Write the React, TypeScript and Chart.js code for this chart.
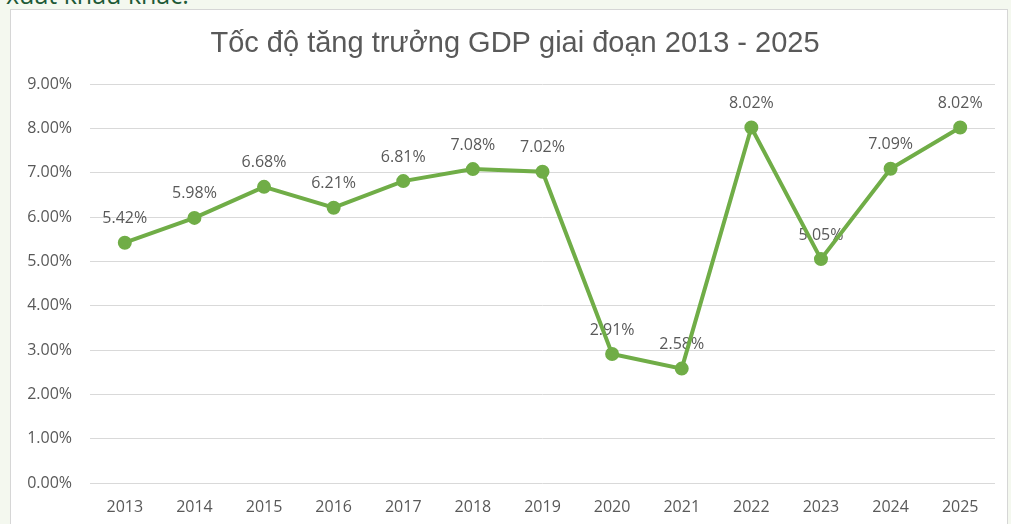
import React, { useEffect, useRef } from "react";
import { Chart, registerables } from "chart.js";

Chart.register(...registerables);

const categories = ["2013", "2014", "2015", "2016", "2017", "2018", "2019", "2020", "2021", "2022", "2023", "2024", "2025"];
const gdpGrowth = [5.42, 5.98, 6.68, 6.21, 6.81, 7.08, 7.02, 2.91, 2.58, 8.02, 5.05, 7.09, 8.02];
const titleText = "Tốc độ tăng trưởng GDP giai đoạn 2013 - 2025";
const yMin = 0;
const yMax = 9;
const yStep = 1;

const FONT = "'Open Sans', 'Liberation Sans', sans-serif";
const TITLE_FONT = "'Liberation Sans', Arial, sans-serif";
const TEXT = "#595959";
const GREEN = "#70ad47";

const labelPlugin = {
  id: "pointLabels",
  beforeDatasetsDraw(chart: any) {
    const ctx = chart.ctx;
    const meta = chart.getDatasetMeta(0);
    const data = chart.data.datasets[0].data as number[];
    ctx.save();
    ctx.font = `16px ${FONT}`;
    ctx.fillStyle = TEXT;
    ctx.textAlign = "center";
    ctx.textBaseline = "middle";
    meta.data.forEach((pt: any, i: number) => {
      ctx.fillText(`${data[i].toFixed(2)}%`, pt.x, pt.y - 24);
    });
    ctx.restore();
  },
};

const titlePlugin = {
  id: "customTitle",
  afterDraw(chart: any) {
    const ctx = chart.ctx;
    ctx.save();
    ctx.font = `29px ${TITLE_FONT}`;
    ctx.fillStyle = TEXT;
    ctx.textAlign = "center";
    ctx.textBaseline = "middle";
    ctx.fillText(titleText, 515, 44);
    ctx.restore();
  },
};

export default function App() {
  const ref = useRef<HTMLCanvasElement>(null);
  useEffect(() => {
    if (!ref.current) return;
    const chart = new Chart(ref.current, {
      type: "line",
      data: {
        labels: categories,
        datasets: [
          {
            data: gdpGrowth,
            borderColor: GREEN,
            backgroundColor: GREEN,
            borderWidth: 4,
            pointRadius: 5,
            pointBackgroundColor: GREEN,
            pointBorderColor: GREEN,
            tension: 0,
          },
        ],
      },
      options: {
        responsive: false,
        animation: false,
        layout: { padding: { left: 10, right: 16, top: 84, bottom: 0 } },
        plugins: {
          legend: { display: false },
          tooltip: { enabled: false },
          title: { display: false },
        },
        scales: {
          x: {
            offset: true,
            grid: { display: false, drawTicks: false },
            border: { display: false },
            ticks: { color: TEXT, font: { family: FONT, size: 16 }, padding: 15 },
            afterFit: (scale: any) => {
              scale.height = 41;
            },
          },
          y: {
            min: yMin,
            max: yMax,
            grid: { color: "#d9d9d9", lineWidth: 1, drawTicks: false },
            border: { display: false },
            ticks: {
              stepSize: yStep,
              color: TEXT,
              font: { family: FONT, size: 16 },
              padding: 18,
              callback: (v: any) => `${Number(v).toFixed(2)}%`,
            },
            afterFit: (scale: any) => {
              scale.width = 80;
            },
          },
        },
      },
      plugins: [labelPlugin, titlePlugin],
    });
    return () => chart.destroy();
  }, []);

  return (
    <div
      style={{
        position: "fixed",
        left: 0,
        top: 0,
        width: 1011,
        height: 524,
        overflow: "hidden",
        background: "#f4f8ef",
      }}
    >
      <div
        style={{
          position: "absolute",
          left: 6,
          top: -23,
          fontFamily: FONT,
          fontSize: 25,
          color: "#1d5a37",
          whiteSpace: "nowrap",
        }}
      >
        xuất khẩu khác.
      </div>
      <div
        style={{
          position: "absolute",
          left: 10,
          top: 9,
          width: 998,
          height: 540,
          background: "#ffffff",
          border: "1px solid #d6d6d6",
          boxSizing: "border-box",
        }}
      />
      <canvas
        ref={ref}
        width={1011}
        height={524}
        style={{ position: "absolute", left: 0, top: 0, width: 1011, height: 524 }}
      />
    </div>
  );
}
